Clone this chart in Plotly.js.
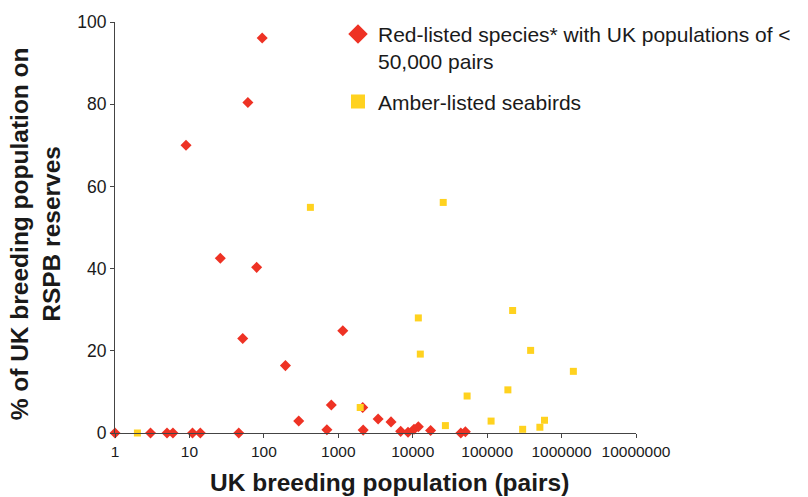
<!DOCTYPE html>
<html>
<head>
<meta charset="utf-8">
<script src="https://cdn.plot.ly/plotly-3.0.1.min.js"></script>
<style>
  html, body { margin: 0; padding: 0; background: #fff; }
  #chart { width: 808px; height: 497px; }
</style>
</head>
<body>
<div id="chart"></div>
<script>
// red-listed species: UK breeding pairs vs % on RSPB reserves
const redPairs = [1, 3, 5, 6, 11, 14, 46, 9, 26, 52, 61, 80, 95, 195, 294, 703, 806, 1150,
  2130, 2160, 3430, 5110, 6890, 8650, 10400, 11900, 17400, 44300, 51000];
const redPct = [0, 0, 0, 0, 0, 0, 0, 70, 42.5, 23, 80.4, 40.3, 96.1, 16.4, 2.9, 0.8, 6.8, 24.9,
  6.2, 0.7, 3.4, 2.7, 0.4, 0.2, 0.9, 1.5, 0.6, 0, 0.3];

// amber-listed seabirds
const amberPairs = [2, 422, 1970, 11900, 12650, 25700, 27500, 53800, 113000, 190000, 220000,
  300000, 384000, 511000, 590000, 1440000];
const amberPct = [0, 54.9, 6.2, 28, 19.2, 56.1, 1.8, 9, 2.9, 10.5, 29.8, 0.9, 20.1, 1.4, 3.1, 15];

const xTicks = [1, 10, 100, 1000, 10000, 100000, 1000000, 10000000];
const xTickText = ['1', '10', '100', '1000', '10000', '100000', '1000000', '10000000'];

const redName = 'Red-listed species* with UK populations of &lt;<br>50,000 pairs';
const amberName = 'Amber-listed seabirds';

const RED = '#EE3224';
const AMBER = '#FFD21F';
const FONT = 'Liberation Sans, Arial, sans-serif';

const traces = [
  {
    x: redPairs, y: redPct, type: 'scatter', mode: 'markers', showlegend: false,
    cliponaxis: false, hoverinfo: 'x+y',
    marker: { symbol: 'diamond', size: 8.5, color: RED }
  },
  {
    x: amberPairs, y: amberPct, type: 'scatter', mode: 'markers', showlegend: false,
    cliponaxis: false, hoverinfo: 'x+y',
    marker: { symbol: 'square', size: 7, color: AMBER }
  },
  // legend-only entries with bigger symbols, like the original
  {
    x: [null], y: [null], type: 'scatter', mode: 'markers', name: redName,
    legendgroup: 'a', marker: { symbol: 'diamond', size: 15, color: RED }
  },
  {
    x: [null], y: [null], type: 'scatter', mode: 'markers', name: amberName,
    legendgroup: 'b', marker: { symbol: 'square', size: 14, color: AMBER }
  }
];

const layout = {
  width: 808,
  height: 497,
  margin: { l: 115, r: 170, t: 22, b: 64 },
  paper_bgcolor: '#fff',
  plot_bgcolor: '#fff',
  font: { family: FONT, color: '#1a1a1a' },
  xaxis: {
    type: 'log',
    range: [0, 7],
    tickvals: xTicks,
    ticktext: xTickText,
    showgrid: false,
    zeroline: false,
    showline: true,
    linecolor: '#444',
    linewidth: 1,
    ticks: 'outside',
    ticklen: 4,
    tickcolor: '#444',
    tickfont: { size: 15.5, family: FONT, color: '#1a1a1a' }
  },
  yaxis: {
    range: [0, 100],
    dtick: 20,
    showgrid: false,
    zeroline: false,
    showline: true,
    linecolor: '#444',
    linewidth: 1,
    ticks: 'outside',
    ticklen: 4,
    tickcolor: '#444',
    tickfont: { size: 17.5, family: FONT, color: '#1a1a1a' }
  },
  legend: {
    x: 0.428, xanchor: 'left',
    y: 1.02, yanchor: 'top',
    valign: 'top',
    traceorder: 'grouped',
    tracegroupgap: 10,
    bgcolor: 'rgba(0,0,0,0)',
    font: { size: 21, family: FONT, color: '#1a1a1a' }
  },
  annotations: [
    {
      text: '<b>UK breeding population (pairs)</b>',
      xref: 'paper', yref: 'paper', x: 0.526, y: -0.121,
      xanchor: 'center', yanchor: 'middle', showarrow: false,
      font: { size: 24.5, family: FONT, color: '#1a1a1a' }
    },
    {
      text: '<b>% of UK breeding population on<br>RSPB reserves</b>',
      xref: 'paper', yref: 'paper', x: -0.153, y: 0.484,
      xanchor: 'center', yanchor: 'middle', showarrow: false, textangle: -90,
      font: { size: 24.5, family: FONT, color: '#1a1a1a' }
    }
  ]
};

Plotly.newPlot('chart', traces, layout, { displayModeBar: false, staticPlot: true });
</script>
</body>
</html>
